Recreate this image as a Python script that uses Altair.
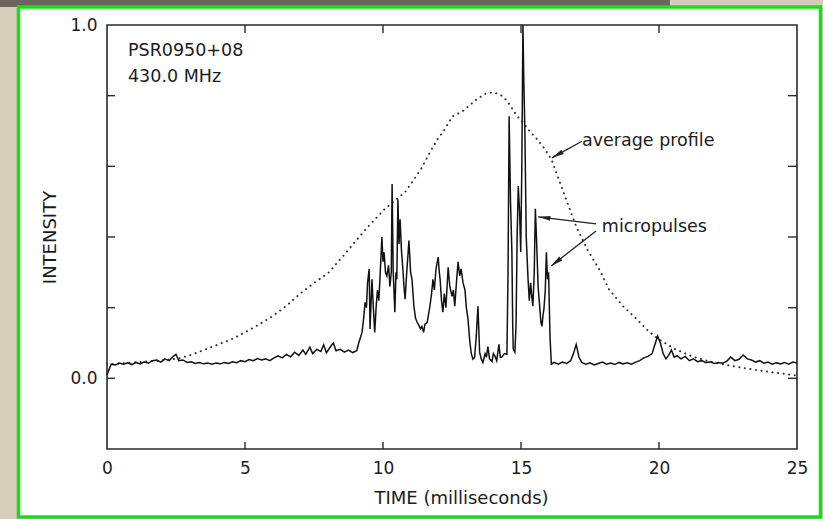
import math
import altair as alt
import pandas as pd

# ---------------- data ----------------
# single pulse (time ms, intensity)
PULSE_LEAD = [(0.0,0.01),(0.15,0.04),(0.3,0.038),(0.45,0.043),(0.6,0.04),(0.75,0.044),(0.9,0.039),
              (1.05,0.045),(1.2,0.041),(1.35,0.047),(1.5,0.043),(1.65,0.05),(1.8,0.052),(1.95,0.046),
              (2.1,0.055),(2.25,0.05),(2.4,0.062),(2.5,0.068),(2.6,0.05),(2.75,0.052),(2.9,0.045),
              (3.05,0.047),(3.2,0.042),(3.35,0.045),(3.5,0.041),(3.65,0.043),(3.8,0.04),(3.95,0.043),
              (4.1,0.041),(4.25,0.045),(4.4,0.042),(4.55,0.047),(4.7,0.044),(4.85,0.05),(5.0,0.047),
              (5.15,0.053),(5.3,0.05),(5.45,0.056),(5.6,0.052),(5.75,0.055),(5.9,0.05),(6.05,0.058),
              (6.2,0.064),(6.35,0.058),(6.5,0.068),(6.65,0.061),(6.8,0.074),(6.95,0.065),(7.1,0.08),
              (7.2,0.068),(7.35,0.088),(7.45,0.07),(7.6,0.082),(7.75,0.076),(7.85,0.095),(7.95,0.072),
              (8.1,0.09),(8.2,0.1),(8.3,0.078),(8.45,0.082),(8.6,0.074),(8.75,0.08),(8.9,0.073),(9.05,0.078)]
PULSE_MAIN = [(9.12,0.1),(9.24,0.13),(9.3,0.17),(9.35,0.215),(9.4,0.2),(9.44,0.27),(9.5,0.31),(9.53,0.14),
              (9.57,0.22),(9.6,0.28),(9.65,0.2),(9.7,0.13),(9.75,0.2),(9.8,0.25),(9.85,0.22),(9.9,0.3),
              (9.96,0.40),(10.0,0.33),(10.04,0.357),(10.09,0.3),(10.14,0.29),(10.2,0.32),(10.25,0.26),
              (10.3,0.3),(10.33,0.55),(10.37,0.3),(10.43,0.187),(10.47,0.3),(10.5,0.28),(10.54,0.507),
              (10.58,0.38),(10.62,0.45),(10.67,0.36),(10.72,0.31),(10.76,0.26),(10.8,0.224),(10.86,0.3),
              (10.94,0.39),(11.0,0.3),(11.05,0.28),(11.12,0.204),(11.18,0.17),(11.23,0.16),(11.3,0.15),
              (11.36,0.14),(11.41,0.147),(11.47,0.13),(11.52,0.153),(11.6,0.158),(11.7,0.204),(11.76,0.24),
              (11.81,0.28),(11.86,0.25),(11.92,0.31),(12.0,0.343),(12.04,0.3),(12.07,0.28),(12.12,0.22),
              (12.17,0.187),(12.22,0.24),(12.28,0.2),(12.36,0.314),(12.42,0.26),(12.5,0.232),(12.55,0.25),
              (12.6,0.204),(12.66,0.27),(12.72,0.33),(12.78,0.29),(12.83,0.31),(12.9,0.27),(12.97,0.25),
              (13.02,0.2),(13.08,0.167),(13.15,0.1),(13.2,0.07),(13.26,0.054),(13.32,0.06),(13.38,0.12),
              (13.44,0.204),(13.48,0.12),(13.5,0.074),(13.56,0.055),(13.62,0.045),(13.7,0.07),(13.75,0.06),
              (13.8,0.09),(13.86,0.055),(13.95,0.048),(14.0,0.07),(14.06,0.062),(14.12,0.05),(14.2,0.096),
              (14.25,0.06),(14.3,0.06),(14.4,0.07),(14.49,0.068),(14.53,0.3),(14.57,0.742),(14.62,0.5),
              (14.67,0.357),(14.7,0.15),(14.72,0.082),(14.78,0.074),(14.82,0.15),(14.86,0.4),(14.9,0.544),
              (14.95,0.47),(14.99,0.357),(15.03,0.6),(15.07,1.0),(15.1,0.85),(15.14,0.705),(15.19,0.4),
              (15.25,0.29),(15.3,0.22),(15.35,0.27),(15.39,0.232),(15.43,0.204),(15.48,0.3),(15.52,0.48),
              (15.56,0.4),(15.62,0.26),(15.68,0.2),(15.72,0.16),(15.76,0.147),(15.8,0.18),(15.83,0.195),
              (15.88,0.25),(15.92,0.357),(15.96,0.28),(16.0,0.3),(16.05,0.12),(16.1,0.04)]
PULSE_TRAIL = [(16.2,0.045),(16.35,0.04),(16.5,0.046),(16.65,0.042),(16.8,0.05),(16.9,0.07),(17.0,0.096),
               (17.1,0.06),(17.2,0.045),(17.35,0.04),(17.5,0.044),(17.65,0.038),(17.8,0.042),(17.95,0.046),
               (18.1,0.04),(18.25,0.043),(18.4,0.039),(18.55,0.045),(18.7,0.041),(18.85,0.044),(19.0,0.04),
               (19.15,0.046),(19.3,0.05),(19.45,0.058),(19.6,0.062),(19.75,0.07),(19.85,0.095),(19.95,0.12),
               (20.05,0.1),(20.15,0.07),(20.25,0.055),(20.35,0.065),(20.45,0.08),(20.55,0.06),(20.65,0.064),
               (20.8,0.055),(20.95,0.062),(21.1,0.05),(21.25,0.055),(21.4,0.047),(21.55,0.05),(21.7,0.044),
               (21.85,0.047),(22.0,0.042),(22.15,0.045),(22.3,0.043),(22.45,0.048),(22.6,0.06),(22.75,0.05),
               (22.9,0.054),(23.05,0.066),(23.2,0.055),(23.35,0.052),(23.5,0.046),(23.65,0.05),(23.8,0.043),
               (23.95,0.046),(24.1,0.04),(24.25,0.044),(24.4,0.041),(24.55,0.045),(24.7,0.04),(24.85,0.046),
               (25.0,0.043)]
# average profile (dotted)
AVG_PROFILE = [(0.0,0.04),(0.5,0.042),(1.0,0.045),(1.5,0.048),(2.0,0.051),(2.6,0.056),(3.0,0.065),
               (3.5,0.08),(4.0,0.095),(4.5,0.11),(5.0,0.13),(5.5,0.152),(6.0,0.176),(6.5,0.205),
               (7.0,0.24),(7.5,0.27),(8.0,0.297),(8.6,0.35),(9.35,0.42),(10.07,0.48),(10.8,0.527),
               (11.1,0.56),(11.4,0.595),(11.7,0.64),(12.0,0.68),(12.2,0.70),(12.5,0.74),(12.9,0.757),
               (13.4,0.79),(13.7,0.805),(14.0,0.81),(14.3,0.80),(14.5,0.785),(14.86,0.742),(15.07,0.725),
               (15.3,0.70),(15.58,0.677),(15.85,0.65),(16.1,0.62),(16.5,0.535),(17.0,0.43),(17.4,0.365),
               (17.86,0.305),(18.2,0.25),(18.7,0.204),(19.2,0.167),(19.6,0.135),(20.0,0.11),(20.6,0.082),
               (21.2,0.062),(21.85,0.047),(22.5,0.037),(23.0,0.03),(24.0,0.018),(25.0,0.008)]

X_TICKS = [5, 10, 15, 20]
X_LABELS = [0, 5, 10, 15, 20, 25]
Y_TICKS = [0.0, 0.2, 0.4, 0.6, 0.8]
Y_LABELS = [0.0, 1.0]

TEXT_LABELS = ["PSR0950+08", "430.0 MHz", "average  profile", "micropulses"]
TEXT_X = [0.76, 0.76, 17.21, 17.93]
TEXT_Y = [0.926, 0.853, 0.672, 0.428]

ARROW_X = [17.21, 17.72, 17.72]
ARROW_Y = [0.671, 0.437, 0.417]
ARROW_TIP_X = [16.12, 15.62, 16.09]
ARROW_TIP_Y = [0.624, 0.457, 0.318]

# ---------------- chart ----------------
W, H = 690, 424
XDOM, YDOM = [0, 25], [-0.2, 1.0]
FONT = "DejaVu Sans"
INK = "#1c1c1c"

xs = alt.Scale(domain=XDOM, nice=False, zero=False)
ys = alt.Scale(domain=YDOM, nice=False, zero=False)
xaxis = alt.Axis(values=X_LABELS, format="d", tickSize=0, domain=False, grid=False,
                 labelFlush=False, labelOverlap=False,
                 labelPadding=11, labelFontSize=17, labelFont=FONT, labelColor=INK,
                 title="TIME (milliseconds)", titleFont=FONT, titleFontSize=18,
                 titleFontWeight="normal", titleColor=INK, titleX=354, titleY=49,
                 titleBaseline="middle", titleAlign="center", zindex=2)
yaxis = alt.Axis(values=Y_LABELS, format=".1f", tickSize=0, domain=False, grid=False,
                 labelFlush=False, labelOverlap=False,
                 labelPadding=10, labelFontSize=17, labelFont=FONT, labelColor=INK,
                 title="INTENSITY", titleFont=FONT, titleFontSize=18, titleFontWeight="normal",
                 titleColor=INK, titleX=-57, titleY=212, titleAngle=270,
                 titleBaseline="middle", titleAlign="center", zindex=2)

def X(f):
    return alt.X(f, type="quantitative", scale=xs, axis=xaxis)

def Y(f):
    return alt.Y(f, type="quantitative", scale=ys, axis=yaxis)

one = alt.Data(values=[{}])

# scanned-page decoration
top_strip = alt.Chart(one).mark_rect(fill="#6d675b").encode(
    x=alt.value(-107), x2=alt.value(563), y=alt.value(-25), y2=alt.value(-18))
page = alt.Chart(one).mark_rect(fill="white", stroke="#14e014", strokeWidth=3.5).encode(
    x=alt.value(-88.5), x2=alt.value(713.5), y=alt.value(-18), y2=alt.value(492))

frame_df = pd.DataFrame({"x0": [XDOM[0]], "x1": [XDOM[1]], "y0": [YDOM[0]], "y1": [YDOM[1]]})
frame = alt.Chart(frame_df).mark_rect(fill=None, stroke="#2a2a2a", strokeWidth=1.6).encode(
    x=X("x0"), x2="x1", y=Y("y0"), y2="y1")

yt = pd.DataFrame({"v": Y_TICKS})
xt = pd.DataFrame({"t": X_TICKS})
tick_style = dict(color="#2a2a2a", strokeWidth=1.4)
left_ticks = alt.Chart(yt).mark_rule(**tick_style).encode(y=Y("v"), x=alt.value(0), x2=alt.value(8))
right_ticks = alt.Chart(yt).mark_rule(**tick_style).encode(y=Y("v"), x=alt.value(W - 9), x2=alt.value(W))
top_ticks = alt.Chart(xt).mark_rule(**tick_style).encode(x=X("t"), y=alt.value(0), y2=alt.value(8))
bot_ticks = alt.Chart(xt).mark_rule(**tick_style).encode(x=X("t"), y=alt.value(H - 7), y2=alt.value(H))

avg_df = pd.DataFrame(AVG_PROFILE, columns=["t", "v"])
avg = alt.Chart(avg_df).mark_line(color="#303030", strokeWidth=2.0, strokeDash=[0.1, 5.5],
                                  strokeCap="round").encode(x=X("t"), y=Y("v"))

pulse_df = pd.DataFrame(PULSE_LEAD + PULSE_MAIN + PULSE_TRAIL, columns=["t", "v"])
pulse = alt.Chart(pulse_df).mark_line(color="#121212", strokeWidth=1.5).encode(x=X("t"), y=Y("v"))

txt_df = pd.DataFrame({"label": TEXT_LABELS, "t": TEXT_X, "v": TEXT_Y})
texts = alt.Chart(txt_df).mark_text(align="left", baseline="middle", font=FONT, fontSize=17.5,
                                    color=INK).encode(x=X("t"), y=Y("v"), text="label:N")

px_x = W / (XDOM[1] - XDOM[0])
px_y = H / (YDOM[1] - YDOM[0])
angles = []
for x0, y0, x1, y1 in zip(ARROW_X, ARROW_Y, ARROW_TIP_X, ARROW_TIP_Y):
    dx = (x1 - x0) * px_x
    dy = -(y1 - y0) * px_y
    angles.append(math.degrees(math.atan2(dx, -dy)) % 360)
arr_df = pd.DataFrame({"t": ARROW_X, "v": ARROW_Y, "t2": ARROW_TIP_X, "v2": ARROW_TIP_Y, "ang": angles})
shafts = alt.Chart(arr_df).mark_rule(color="#222", strokeWidth=1.3).encode(
    x=X("t"), y=Y("v"), x2="t2", y2="v2")
heads = alt.Chart(arr_df).mark_point(shape="M0,0L0.4,2L-0.4,2Z", filled=True, opacity=1,
                                     color="#222", size=150).encode(
    x=X("t2"), y=Y("v2"), angle=alt.Angle("ang:Q", scale=None))

chart = alt.layer(top_strip, page, frame, left_ticks, right_ticks, top_ticks, bot_ticks,
                  avg, pulse, shafts, heads, texts).properties(
    width=W, height=H,
    autosize=alt.AutoSizeParams(type="none"),
    padding={"left": 107, "top": 25, "right": 26, "bottom": 70},
    background="#d5cdb9",
).configure_view(stroke=None)

chart.save("out.html", embed_options={"renderer": "svg", "actions": False})
